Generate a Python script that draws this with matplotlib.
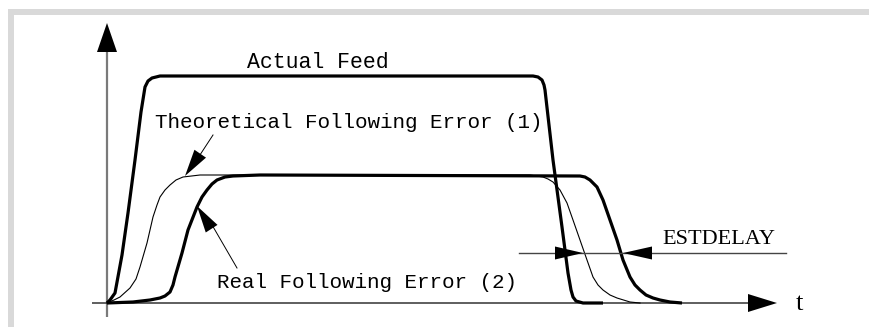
import matplotlib
matplotlib.use("Agg")
import matplotlib.pyplot as plt
import numpy as np
from matplotlib.patches import Rectangle, Polygon

# curves (x: time units, y: amplitude units)
feed_t = [0, 3, 8, 15, 21, 28, 34, 38, 41, 45, 53, 426, 431, 435, 437, 438,
          446, 455, 461, 464, 466, 469, 476, 496]
feed_v = [0, 3, 10, 48, 90, 143, 191, 216, 222, 225, 227, 227, 226, 223, 218, 213,
          143, 76, 30, 13, 6, 2, 0, 0]

theo_t = [0, 7, 13, 23, 29, 33, 40, 46, 50, 53, 58, 63, 69, 76, 93,
          423, 436, 441, 446, 453, 460, 466, 473, 480, 486, 491, 496, 503, 510, 523, 533]
theo_v = [0, 3, 6, 15, 24, 36, 60, 86, 98, 106, 113, 118, 123, 126, 128,
          128, 126, 124, 121, 113, 100, 83, 63, 43, 26, 18, 13, 8, 5, 1, 0]

real_t = [0, 26, 43, 53, 58, 63, 66, 68, 75, 81, 90, 95, 100, 105, 110, 118, 126, 153,
          473, 478, 483, 490, 496, 503, 510, 516, 523, 528, 533, 539, 546, 553, 563, 575]
real_v = [0, 1, 3, 5, 7, 11, 18, 26, 50, 73, 96, 106, 113, 119, 123, 126, 127, 128,
          127, 126, 123, 116, 103, 83, 63, 43, 26, 18, 13, 8, 5, 3, 1, 0]

est_left = 476    # theoretical curve at the ESTDELAY level
est_right = 516   # real curve at the ESTDELAY level
est_level = 50

W, H = 869, 327
fig = plt.figure(figsize=(W / 100, H / 100), dpi=100)
ax = fig.add_axes([0, 0, 1, 1])
ax.set_xlim(-107, W - 107)
ax.set_ylim(303 - H, 303)
ax.axis("off")


def head(tip, angle, length, width, color="black"):
    # filled triangular arrow head, angle = direction it points to (degrees)
    a = np.radians(angle)
    d = np.array([np.cos(a), np.sin(a)])
    n = np.array([-d[1], d[0]])
    tip = np.array(tip, dtype=float)
    base = tip - d * length
    pts = [tip, base + n * width / 2, base - n * width / 2]
    ax.add_patch(Polygon(pts, closed=True, color=color, lw=0, zorder=5))


# grey frame (left and top bands)
frame = "#d9d9d9"
ax.add_patch(Rectangle((-99, 303 - H), 6, H - 15, color=frame, lw=0))
ax.add_patch(Rectangle((-99, 288), W, 6, color=frame, lw=0))

# axes
ax.plot([0, 0], [-14, 252], color="#7a7a7a", lw=1.6, solid_capstyle="butt")
head((0, 280), 90, 29, 20)
ax.plot([-15, 642], [0, 0], color="#333333", lw=1.1, solid_capstyle="butt")
head((670, 0), 0, 29, 18)
ax.text(689, -1, "t", family="Liberation Serif", fontsize=19, ha="left", va="center")

# curves
ax.plot(theo_t, theo_v, color="black", lw=0.8, solid_joinstyle="round")
ax.plot(real_t, real_v, color="black", lw=2.3, solid_joinstyle="round", solid_capstyle="butt")
ax.plot(feed_t, feed_v, color="black", lw=2.3, solid_joinstyle="round", solid_capstyle="butt")

# ESTDELAY dimension
ax.plot([412, 679], [est_level, est_level], color="#444444", lw=1.0)
head((est_left, est_level), 0, 28, 13)
head((est_right, est_level), 180, 29, 13)
ax.text(555, 63, "ESTDELAY", family="Liberation Serif", fontsize=16, ha="left", va="center")

# labels
mono = "Liberation Mono"
ax.text(140, 241, "Actual Feed", family=mono, fontsize=15.5, ha="left", va="center")
ax.text(48, 180, "Theoretical Following Error (1)", family=mono, fontsize=15, ha="left", va="center")
ax.text(110, 21, "Real Following Error (2)", family=mono, fontsize=15, ha="left", va="center")

ax.plot([106, 89], [168, 142], color="black", lw=0.7)
head((78, 127), np.degrees(np.arctan2(127 - 168, 78 - 106)), 27, 14)
ax.plot([130, 101], [35, 85], color="black", lw=0.7)
head((90, 97), np.degrees(np.arctan2(97 - 35, 90 - 130)), 27, 14)

fig.savefig("out.png", dpi=100)
